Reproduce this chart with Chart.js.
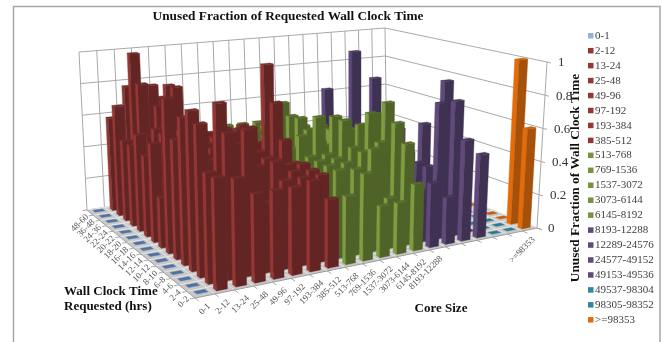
<!DOCTYPE html>
<html>
<head>
<meta charset="utf-8">
<style>
  html, body { margin: 0; padding: 0; background: #fff; overflow: hidden; }
  canvas { display: block; }
</style>
<script src="https://cdn.jsdelivr.net/npm/chart.js@4"></script>
</head>
<body>
<canvas id="chart" width="663" height="342"></canvas>
<script>
var coreSizes = ['0-1', '2-12', '13-24', '25-48', '49-96', '97-192', '193-384', '385-512', '513-768', '769-1536',
    '1537-3072', '3073-6144', '6145-8192', '8193-12288', '12289-24576', '24577-49152', '49153-49536',
    '49537-98304', '98305-98352', '>=98353'];
var coreTickLabels = ['0-1', '2-12', '13-24', '25-48', '49-96', '97-192', '193-384', '385-512', '513-768', '769-1536',
    '1537-3072', '3073-6144', '6145-8192', '8193-12288', '', '', '', '', '', '>=98353'];
var hourLabels = ['0-2', '2-4', '4-6', '6-8', '8-10', '10-12', '12-14', '14-16', '16-18', '18-20', '20-22', '22-24',
    '24-36', '36-48', '48-60'];
var valueTicks = [0, 0.2, 0.4, 0.6, 0.8, 1];

// unused fraction per core size, one array per requested wall clock row
var hrs0to2 = [.005, .6, .58, .48, .48, .48, .5, .38, .38, .49, .29, .29, .38, .37, .27, .59, .49, .005, .005, .6];
var hrs2to4 = [.005, .6, .8, .8, .385, .49, .49, .49, .5, .49, .59, .29, .59, .3, .8, .8, .005, .005, .005, 1];
var hrs4to6 = [.005, .84, .94, .7, .56, .57, .5, .49, .5, .5, .55, .59, .69, .25, .4, .9, .005, .005, .005, .005];
var hrs6to8 = [.005, .89, .6, .74, .75, .56, .51, .5, .5, .5, .55, .74, .79, .25, .4, .005, .005, .005, .005, .005];
var hrs8to10 = [.005, .83, .6, .6, .72, .48, .51, .48, .5, .5, .69, .65, .7, .25, .44, .6, .005, .005, .005, .005];
var hrs10to12 = [.005, .68, .6, .6, .6, .5, .5, .59, .6, .7, .69, .6, .55, .3, .56, .005, .005, .005, .005, .005];
var hrs12to14 = [.005, .89, .6, .6, .6, .66, .51, .79, .5, .6, .49, .5, .55, .3, .3, .005, .005, .005, .005, .005];
var hrs14to16 = [.005, .29, .6, .6, .6, .57, .63, 1, .5, .65, .45, .55, .5, .55, .3, .005, .005, .005, .005, .005];
var hrs16to18 = [.005, .58, .6, .6, .6, .61, .62, .5, .45, .64, .45, .45, .5, 1, .3, .005, .005, .005, .005, .005];
var hrs18to20 = [.005, .48, .6, .6, .6, .55, .52, .5, .45, .7, .45, .45, .5, .3, .3, .79, .005, .005, .005, .005];
var hrs20to22 = [.005, .58, .6, .55, .6, .5, .55, .4, .45, .45, .45, .45, .5, .3, .3, .005, .005, .005, .005, .005];
var hrs22to24 = [.005, .49, .53, .6, .55, .5, .5, .4, .45, .45, .45, .45, .45, .7, .3, .005, .005, .005, .005, .005];
var hrs24to36 = [.005, .49, .83, .68, .79, .45, .45, .4, .45, .45, .45, .45, .45, .3, .3, .005, .005, .005, .005, .005];
var hrs36to48 = [.005, .68, 1, .79, .78, .45, .45, .4, .45, .45, .45, .45, .4, .3, .3, .005, .005, .005, .005, .005];
var hrs48to60 = [.005, .58, .77, .68, .68, .4, .45, .4, .45, .45, .45, .45, .4, .3, .3, .005, .005, .005, .005, .005];
var rows = [hrs0to2, hrs2to4, hrs4to6, hrs6to8, hrs8to10, hrs10to12, hrs12to14, hrs14to16, hrs16to18, hrs18to20,
    hrs20to22, hrs22to24, hrs24to36, hrs36to48, hrs48to60];

var BLUE = { legend: '#95b3d7', side: '#4f6f94', front: '#3f5a7a', top: '#4f72a0' };
var RED = { legend: '#953735', side: '#953735', front: '#632523', top: '#6e2a28' };
var GREEN = { legend: '#77933c', side: '#7f9c40', front: '#4f6228', top: '#586d2c' };
var PURPLE = { legend: '#604a7b', side: '#604a7b', front: '#3f3151', top: '#473759' };
var TEAL = { legend: '#31859c', side: '#31859c', front: '#205867', top: '#2b7c92' };
var ORANGE = { legend: '#e36c09', side: '#e36c09', front: '#a5500b', top: '#c55f0a' };
var coreColors = [BLUE, RED, RED, RED, RED, RED, RED, RED, GREEN, GREEN, GREEN, GREEN, GREEN,
    PURPLE, PURPLE, PURPLE, PURPLE, TEAL, TEAL, ORANGE];

// 3d box corners on the page, floor and z=1 plane: front, right, back, left
var floorQuad = [[195, 298], [537, 228], [387, 168], [87, 210]];
var topQuad = [[190, 108], [547, 62], [385, 28], [79, 52]];
var colRecede = 0.17, rowRecede = 0.14;

function recede(t, k) { return t * (1 + k) / (1 + k * t); }
function onQuad(q, u, v) {
    var a = recede(u, colRecede), b = recede(v, rowRecede);
    return [0, 1].map(function (i) {
        return (q[0][i] * (1 - a) + q[1][i] * a) * (1 - b) + (q[3][i] * (1 - a) + q[2][i] * a) * b;
    });
}

function project(col, row, z) {
    var a = onQuad(floorQuad, col / coreSizes.length, row / hourLabels.length);
    var b = onQuad(topQuad, col / coreSizes.length, row / hourLabels.length);
    return { x: a[0] + (b[0] - a[0]) * z, y: a[1] + (b[1] - a[1]) * z };
}

var datasets = [];
function shape(points, color) {
    datasets.push({ type: 'line', data: points.concat([points[0]]), backgroundColor: color, borderColor: color,
        borderWidth: 0.4, fill: 'shape', pointRadius: 0, tension: 0 });
}
function line(points, color, width) {
    datasets.push({ type: 'line', data: points, borderColor: color, borderWidth: width || 1, fill: false,
        pointRadius: 0, tension: 0 });
}

var GRID = '#a9a9a9';
var nc = coreSizes.length, nr = hourLabels.length;

// walls
valueTicks.forEach(function (v) {
    line([project(0, nr, v), project(nc, nr, v), project(nc, 0, v)], GRID, 1);
    var end = project(nc, 0, v);
    line([end, { x: end.x + 4, y: end.y + 1 }], GRID, 1);
});
for (var c = 0; c <= nc; c++) {
    line([project(c, nr, 0), project(c, nr, 1)], GRID, 1);
}
line([project(nc, 0, 0), project(nc, 0, 1)], GRID, 1);

// floor
shape([project(0, 0, 0), project(nc, 0, 0), project(nc, nr, 0), project(0, nr, 0)], '#c8c8c8');
for (var r = 0; r <= nr; r++) {
    line([project(0, r, 0), project(nc, r, 0)], '#e6e6e6', 1);
    line([project(0, r, 0), project(-0.25, r, 0)], GRID, 1);
}
for (var c2 = 0; c2 <= nc; c2++) {
    line([project(c2, 0, 0), project(c2, nr, 0)], '#e6e6e6', 1);
    line([project(c2, 0, 0), project(c2, -0.45, 0)], GRID, 1);
}
line([project(0, 0, 0), project(nc, 0, 0)], '#9a9a9a', 1);
line([project(0, 0, 0), project(0, nr, 0)], '#9a9a9a', 1);

// bars, back to front
var barW = 0.56, barD = 0.38;
for (var ri = nr - 1; ri >= 0; ri--) {
    for (var ci = nc - 1; ci >= 0; ci--) {
        var val = rows[ri][ci], col = coreColors[ci];
        var c0 = ci + 0.5 - barW / 2, c1 = ci + 0.5 + barW / 2;
        var r0 = ri + 0.5 - barD / 2, r1 = ri + 0.5 + barD / 2;
        if (val > 0.01) {
            shape([project(c0, r0, 0), project(c0, r1, 0), project(c0, r1, val), project(c0, r0, val)], col.side);
            shape([project(c0, r0, 0), project(c1, r0, 0), project(c1, r0, val), project(c0, r0, val)], col.front);
        }
        shape([project(c0, r0, val), project(c1, r0, val), project(c1, r1, val), project(c0, r1, val)], col.top);
    }
}
datasets.reverse(); // chart.js paints the first dataset last

var SERIF = '"Liberation Serif", serif';

var textPlugin = {
    id: 'chartText',
    beforeDraw: function (chart) {
        var ctx = chart.ctx;
        ctx.save();
        ctx.strokeStyle = '#a6a6a6';
        ctx.lineWidth = 1.5;
        ctx.strokeRect(13.5, 6.5, 646.5, 400);
        ctx.restore();
    },
    afterDraw: function (chart) {
        var ctx = chart.ctx, sx = chart.scales.x, sy = chart.scales.y;
        function at(p) { return { x: sx.getPixelForValue(p.x), y: sy.getPixelForValue(p.y) }; }
        ctx.save();
        ctx.fillStyle = '#111';
        ctx.font = 'bold 13.3px ' + SERIF;
        ctx.textAlign = 'center';
        ctx.textBaseline = 'middle';
        ctx.fillText('Unused Fraction of Requested Wall Clock Time', 288, 17);
        ctx.font = 'bold 13px ' + SERIF;
        ctx.fillText('Core Size', 441, 309);
        ctx.textAlign = 'left';
        ctx.fillText('Wall Clock Time', 64, 292);
        ctx.fillText('Requested (hrs)', 64, 307);
        ctx.save();
        ctx.translate(576, 178);
        ctx.rotate(-Math.PI / 2);
        ctx.textAlign = 'center';
        ctx.font = 'bold 13.3px ' + SERIF;
        ctx.fillText('Unused Fraction of Wall Clock Time', 0, 0);
        ctx.restore();

        // value axis
        ctx.font = '13px ' + SERIF;
        ctx.fillStyle = '#333';
        ctx.textAlign = 'left';
        valueTicks.forEach(function (v) {
            var p = at(project(nc, 0, v));
            ctx.fillText(String(v), p.x + 11, p.y + 1);
        });

        // legend
        ctx.font = '11px ' + SERIF;
        coreSizes.forEach(function (name, i) {
            var y = 36 + i * 14.95;
            ctx.fillStyle = coreColors[i].legend;
            ctx.fillRect(588, y - 3, 5.5, 5.5);
            ctx.fillStyle = '#404040';
            ctx.fillText(name, 595, y);
        });

        // slanted category labels
        ctx.font = '9px ' + SERIF;
        ctx.fillStyle = '#555';
        ctx.textAlign = 'right';
        coreTickLabels.forEach(function (t, i) {
            if (!t) return;
            var p = at(project(i + 0.5, 0, 0));
            ctx.save();
            ctx.translate(p.x + 4, p.y + 9);
            ctx.rotate(-Math.PI / 4);
            ctx.fillText(t, 0, 0);
            ctx.restore();
        });
        hourLabels.forEach(function (t, i) {
            var p = at(project(0, i + 0.5, 0));
            ctx.save();
            ctx.translate(p.x - 3, p.y + 3);
            ctx.rotate(-Math.PI / 4);
            ctx.fillText(t, 0, 0);
            ctx.restore();
        });
        ctx.restore();
    }
};

new Chart(document.getElementById('chart').getContext('2d'), {
    type: 'line',
    data: { datasets: datasets },
    plugins: [textPlugin],
    options: {
        responsive: false,
        animation: false,
        events: [],
        layout: { padding: 0 },
        scales: {
            x: { type: 'linear', min: 0, max: 663, display: false },
            y: { type: 'linear', min: 0, max: 342, reverse: true, display: false }
        },
        plugins: {
            tooltip: { enabled: false },
            title: { display: false },
            legend: { display: false }
        }
    }
});
</script>
</body>
</html>
